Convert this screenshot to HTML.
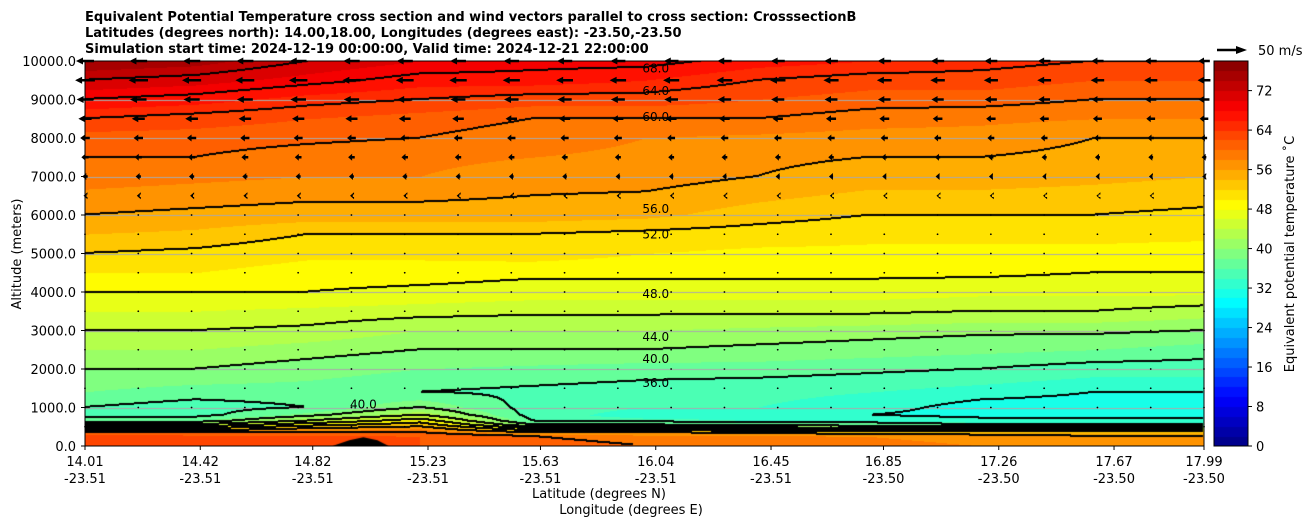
<!DOCTYPE html>
<html><head><meta charset="utf-8">
<style>
body{margin:0;background:#fff;width:1308px;height:526px;overflow:hidden;font-family:"DejaVu Sans","Liberation Sans",sans-serif;}
#wrap{position:relative;width:1308px;height:526px;}
canvas{position:absolute;}
svg{position:absolute;left:0;top:0;font-family:"DejaVu Sans","Liberation Sans",sans-serif;}
</style></head>
<body>
<div id="wrap">
<canvas id="plot" width="1119" height="385" style="left:85px;top:61px"></canvas>
<canvas id="cbar" width="34" height="385" style="left:1214px;top:61px"></canvas>
<svg id="svg" width="1308" height="526"></svg>
</div>
<script>
// ---- data ----
const lats = [14.0,14.4,14.8,15.2,15.6,16.0,16.4,16.8,17.2,17.6,18.0];
const alts = [0,250,350,450,550,650,800,1000,1400,2000,2500,3000,3500,4000,4500,5000,5500,6000,7000,7500,8000,8500,9000,9500,10000];
const temps = [
[64,64,64,62,61,60,60,59,58,57,57],
[64,63,63,62,60,59,59,58,57,56,56],
[60,60,60,60,56,56,55,54,54,54,54],
[52,52,56,58,48,48,46,44,44,44,44],
[44,44,50,54,40,40,38,38,36,36,36],
[38,38,44,50,36,35,34,34,33,33,33],
[35,35,39,44,35,33,33,32,31,31,31],
[36,35,36,40,35,34,34,33,31,31,31],
[38,37,37,36,35.5,35,34.5,34,33,32,32],
[40,40,39,38,37.5,37,37,36.5,36,35,35],
[42,42,41,40,40,40,39.5,39,38.5,38,37],
[44,44,43.5,42,42,42,41.5,41,40.5,40.5,40],
[46,46,45.5,45,44.5,44.5,44.5,44.5,44,44,43],
[48,48,48,47.5,47,47,47,47,46.5,46.5,46.5],
[50,50,49,49,48.5,48.5,48.5,48.5,48.5,48,48],
[52,51.5,50.5,50.5,51,50,49.5,49.5,49.5,49.5,49],
[54,53.5,52,52,52,51.5,51,50.5,50.5,50.5,50.5],
[56,55.5,55,55,55,54.5,53,52,52,52,51.5],
[59,58.5,58,58,57,57,56,55,55,54.5,54],
[60,60,59,58.5,58,57.5,56.5,56,56,55.5,55],
[61,61,60.5,60,59,58,57.5,57,57,56,56],
[64,63,62,61,60,60,60,59,58.5,58,58],
[68,67,65,64,63,63,62,61,61,60,60],
[72,71,69,67,67,66,64,63,63,62,62],
[76,75,72,70,69,69,67,66,65,64,64]];
const windAlts = [10000,9500,9000,8500,8000,7500,7000,6500,6000,5500,5000,4500,4000,3500,3000,2500,2000,1500,1000,500];
const windSpeeds = [-30,-33,-28,-22,-16,-12,-9,-5,-1,-0.5,0,0,0,0,0,0,0,0,0.5,0];
const terrainLat = [14.89,14.95,15.0,15.05,15.09];
const terrainAlt = [0,150,230,150,0];
const xTickLat = [14.01,14.42,14.82,15.23,15.63,16.04,16.45,16.85,17.26,17.67,17.99];
const xTickLon = ["-23.51","-23.51","-23.51","-23.51","-23.51","-23.51","-23.51","-23.50","-23.50","-23.50","-23.50"];
const yTicks = [0,1000,2000,3000,4000,5000,6000,7000,8000,9000,10000];
const cbTicks = [0,8,16,24,32,40,48,56,64,72];
const contourLabels = [[16.04,9800,"68.0"],[16.04,9220,"64.0"],[16.04,8550,"60.0"],[16.04,6150,"56.0"],[16.04,5500,"52.0"],[16.04,3950,"48.0"],[16.04,2830,"44.0"],[16.04,2260,"40.0"],[16.04,1640,"36.0"],[15.0,1080,"40.0"]];

// ---- scales ----
const PX=85,PY=61,PW=1119,PH=385;
const LAT0=14.01,LAT1=17.99,VMAX=78;
const xs = lat => PX + (lat-LAT0)/(LAT1-LAT0)*PW;
const ys = alt => PY + PH - alt/10000*PH;
function interp(arr,v){let i=0;while(i<arr.length-2&&v>arr[i+1])i++;let t=(v-arr[i])/(arr[i+1]-arr[i]);return [i,Math.max(0,Math.min(1,t))];}
function field(lat,alt){const [i,ti]=interp(lats,lat);const [j,tj]=interp(alts,alt);
 const a=temps[j][i],b=temps[j][i+1],c=temps[j+1][i],d=temps[j+1][i+1];
 return (a*(1-ti)+b*ti)*(1-tj)+(c*(1-ti)+d*ti)*tj;}
function jet(t){const c=v=>Math.round(255*Math.max(0,Math.min(1,v)));return [c(1.5-Math.abs(4*t-3)),c(1.5-Math.abs(4*t-2)),c(1.5-Math.abs(4*t-1))];}
function colorFor(v){const lv=Math.max(0,Math.min(VMAX-2,Math.floor(v/2)*2));return jet((lv+1)/VMAX);}

// ---- fill ----
const cv=document.getElementById('plot'),ctx=cv.getContext('2d');
const img=ctx.createImageData(PW,PH);const F=new Float32Array(PW*PH);
for(let y=0;y<PH;y++){const alt=(PH-y)/PH*10000;for(let x=0;x<PW;x++){const lat=LAT0+x/PW*(LAT1-LAT0);F[y*PW+x]=field(lat,alt);}}
for(let k=0;k<PW*PH;k++){const c=colorFor(F[k]);img.data[k*4]=c[0];img.data[k*4+1]=c[1];img.data[k*4+2]=c[2];img.data[k*4+3]=255;}
for(const t of yTicks){const y=Math.round(ys(t)-PY);if(y<=0||y>=PH)continue;for(let x=0;x<PW;x++){const k=(y*PW+x)*4;img.data[k]=170;img.data[k+1]=170;img.data[k+2]=170;}}
const band=v=>Math.floor(v/4);
const mark=new Uint8Array(PW*PH);
for(let y=0;y<PH-1;y++)for(let x=0;x<PW-1;x++){const k=y*PW+x;const b=band(F[k]);
 if(b!==band(F[k+1])||b!==band(F[k+PW])){if(Math.max(F[k],F[k+1],F[k+PW])>=32&&Math.min(F[k],F[k+1],F[k+PW])<72){mark[k]=1;if(y>0)mark[k-PW]=1;}}}
for(let k=0;k<PW*PH;k++)if(mark[k]){img.data[k*4]=0;img.data[k*4+1]=0;img.data[k*4+2]=0;}
ctx.putImageData(img,0,0);
ctx.fillStyle='#000';ctx.beginPath();
terrainLat.forEach((l,i)=>{const x=xs(l)-PX,y=ys(terrainAlt[i])-PY;i?ctx.lineTo(x,y):ctx.moveTo(x,y);});ctx.closePath();ctx.fill();

// ---- colorbar ----
const cb=document.getElementById('cbar'),cc=cb.getContext('2d');
for(let lv=0;lv<VMAX;lv+=2){const c=jet((lv+1)/VMAX);cc.fillStyle=`rgb(${c})`;const y0=PH-(lv+2)/VMAX*PH,y1=PH-lv/VMAX*PH;cc.fillRect(0,Math.floor(y0),34,Math.ceil(y1)-Math.floor(y0));}

// ---- svg overlay ----
const NS='http://www.w3.org/2000/svg',svg=document.getElementById('svg');
function el(tag,attrs,text){const e=document.createElementNS(NS,tag);for(const k in attrs)e.setAttribute(k,attrs[k]);if(text!==undefined)e.textContent=text;svg.appendChild(e);return e;}
const SC=0.6;
for(let c=0;c<=21;c++){const x=PX+c*PW/21;
 windAlts.forEach((a,r)=>{const y=ys(a);const f=1-0.35*c/21;const L=windSpeeds[r]*SC*f;
  const g=el('g',{});
  if(Math.abs(L)<2){const d=document.createElementNS(NS,'circle');d.setAttribute('cx',x);d.setAttribute('cy',y);d.setAttribute('r',0.9);d.setAttribute('fill','#000');g.appendChild(d);return;}
  const tip=x+L/2,tail=x-L/2,h=Math.min(7,Math.max(4,Math.abs(L)*0.5)),s=Math.sign(L);
  const p=document.createElementNS(NS,'path');
  p.setAttribute('d',`M${tail},${y-1.2}L${tip-s*h},${y-1.2}L${tip-s*h},${y-3.5}L${tip},${y}L${tip-s*h},${y+3.5}L${tip-s*h},${y+1.2}L${tail},${y+1.2}Z`);
  p.setAttribute('fill','#000');g.appendChild(p);});}
contourLabels.forEach(([l,a,t])=>{const e=el('text',{x:xs(l),y:ys(a)+4,'text-anchor':'middle','font-size':12,fill:'#000'},t);});
let e=el('rect',{x:PX,y:PY,width:PW,height:PH,fill:'none',stroke:'#000','stroke-width':1});
e=el('rect',{x:1214,y:61,width:34,height:385,fill:'none',stroke:'#000','stroke-width':1});
yTicks.forEach(t=>{const y=ys(t);el('line',{x1:PX-4,x2:PX,y1:y,y2:y,stroke:'#000'});
 const tx=el('text',{x:PX-9,y:y+5,'text-anchor':'end','font-size':13},t.toFixed(1));});
xTickLat.forEach((l,i)=>{const x=xs(l);el('line',{x1:x,x2:x,y1:PY+PH,y2:PY+PH+4,stroke:'#000'});
 const a=el('text',{x:x,y:466,'text-anchor':'middle','font-size':13},l.toFixed(2));
 const b=el('text',{x:x,y:483,'text-anchor':'middle','font-size':13},xTickLon[i]);});
cbTicks.forEach(t=>{const y=61+PH-t/VMAX*PH;el('line',{x1:1248,x2:1252,y1:y,y2:y,stroke:'#000'});
 const tx=el('text',{x:1256,y:y+5,'font-size':13},t);});
</script>
<svg width="1308" height="526" style="position:absolute;left:0;top:0;pointer-events:none">
<text x="85" y="21" font-size="13" font-weight="bold">Equivalent Potential Temperature cross section and wind vectors parallel to cross section: CrosssectionB</text>
<text x="85" y="37" font-size="13" font-weight="bold">Latitudes (degrees north): 14.00,18.00, Longitudes (degrees east): -23.50,-23.50</text>
<text x="85" y="53" font-size="13" font-weight="bold">Simulation start time: 2024-12-19 00:00:00, Valid time: 2024-12-21 22:00:00</text>
<text transform="translate(21,254) rotate(-90)" text-anchor="middle" font-size="13">Altitude (meters)</text>
<text x="599" y="498" text-anchor="middle" font-size="13">Latitude (degrees N)</text>
<text x="631" y="514" text-anchor="middle" font-size="13">Longitude (degrees E)</text>
<text transform="translate(1294,254) rotate(-90)" text-anchor="middle" font-size="13">Equivalent potential temperature ˚C</text>
<g>
<line x1="1217" y1="50" x2="1238" y2="50" stroke="#000" stroke-width="2.4"/>
<path d="M1236,46L1247,50L1236,54Z" fill="#000"/>
<text x="1258" y="55" font-size="13">50 m/s</text>
</g>
</svg>
</body></html>
